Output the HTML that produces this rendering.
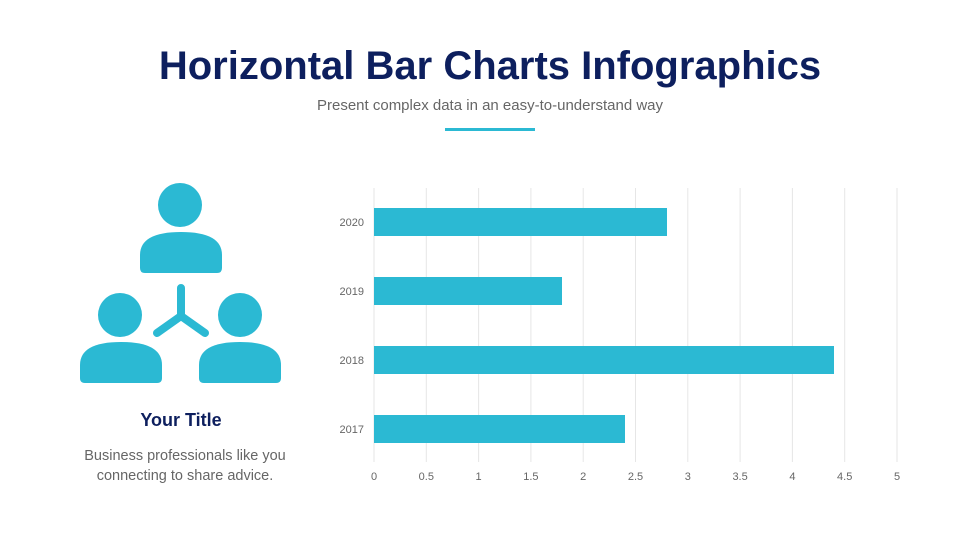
<!DOCTYPE html>
<html><head><style>
body{margin:0;width:980px;height:551px;background:#fff;font-family:"Liberation Sans",sans-serif;overflow:hidden;position:relative}
.t{position:absolute;left:0;width:980px;text-align:center}
</style></head><body>
<div class="t" style="top:44px;font-size:40px;font-weight:bold;color:#0d1f5e">Horizontal Bar Charts Infographics</div>
<div class="t" style="top:97px;font-size:15px;color:#666">Present complex data in an easy-to-understand way</div>
<div style="position:absolute;left:445px;top:128px;width:90px;height:3px;background:#2bb9d3"></div>
<svg width="980" height="551" style="position:absolute;left:0;top:0">
<g fill="#2bb9d3">
<circle cx="180" cy="205" r="22"/>
<path d="M140 268 L140 255 Q140 232 181 232 Q222 232 222 255 L222 268 Q222 273 217 273 L145 273 Q140 273 140 268 Z"/>
<circle cx="120" cy="315" r="22"/>
<path d="M80 378 L80 365 Q80 342 121 342 Q162 342 162 365 L162 378 Q162 383 157 383 L85 383 Q80 383 80 378 Z"/>
<circle cx="240" cy="315" r="22"/>
<path d="M199 378 L199 365 Q199 342 240 342 Q281 342 281 365 L281 378 Q281 383 276 383 L204 383 Q199 383 199 378 Z"/>
</g>
<g stroke="#2bb9d3" stroke-width="8" stroke-linecap="round" fill="none">
<path d="M181 288 L181 316 M181 316 L157 333 M181 316 L205 333"/>
</g>
<g stroke="#e6e6e6" stroke-width="1">
<line x1="374" y1="188" x2="374" y2="462"/><line x1="426.3" y1="188" x2="426.3" y2="462"/>
<line x1="478.6" y1="188" x2="478.6" y2="462"/><line x1="530.9" y1="188" x2="530.9" y2="462"/>
<line x1="583.2" y1="188" x2="583.2" y2="462"/><line x1="635.5" y1="188" x2="635.5" y2="462"/>
<line x1="687.8" y1="188" x2="687.8" y2="462"/><line x1="740.1" y1="188" x2="740.1" y2="462"/>
<line x1="792.4" y1="188" x2="792.4" y2="462"/><line x1="844.7" y1="188" x2="844.7" y2="462"/>
<line x1="897" y1="188" x2="897" y2="462"/>
</g>
<g fill="#2bb9d3">
<rect x="374" y="208" width="293" height="28"/>
<rect x="374" y="277" width="188" height="28"/>
<rect x="374" y="346" width="460" height="28"/>
<rect x="374" y="415" width="251" height="28"/>
</g>
<g font-size="11" fill="#666" text-anchor="end">
<text x="364" y="226">2020</text><text x="364" y="295">2019</text>
<text x="364" y="364">2018</text><text x="364" y="433">2017</text>
</g>
<g font-size="11" fill="#666" text-anchor="middle">
<text x="374" y="480">0</text><text x="426.3" y="480">0.5</text><text x="478.6" y="480">1</text>
<text x="530.9" y="480">1.5</text><text x="583.2" y="480">2</text><text x="635.5" y="480">2.5</text>
<text x="687.8" y="480">3</text><text x="740.1" y="480">3.5</text><text x="792.4" y="480">4</text>
<text x="844.7" y="480">4.5</text><text x="897" y="480">5</text>
</g>
</svg>
<div style="position:absolute;left:60px;width:242px;top:410px;text-align:center;font-size:18px;font-weight:bold;color:#0d1f5e">Your Title</div>
<div style="position:absolute;left:60px;width:250px;top:446px;text-align:center;font-size:14.5px;line-height:20px;color:#666">Business professionals like you connecting to share advice.</div>
</body></html>
